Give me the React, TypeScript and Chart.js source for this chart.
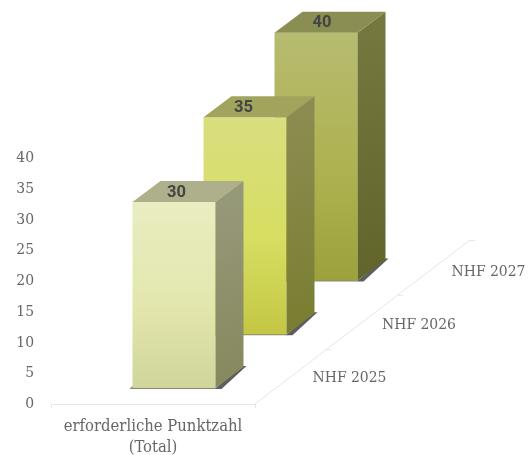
import React, { useEffect, useRef } from "react";
import { Chart, registerables } from "chart.js";

Chart.register(...registerables);

const categories = [["erforderliche Punktzahl", "(Total)"]];
const seriesNames = ["NHF 2025", "NHF 2026", "NHF 2027"];
const values2025 = [30];
const values2026 = [35];
const values2027 = [40];
const yTicks = [0, 5, 10, 15, 20, 25, 30, 35, 40];

const FONT = '"DejaVu Serif Condensed", "DejaVu Serif", serif';
const GRID = "#e6e6e6";

// projection of a chart-plane point into the receding depth axis
const DEPTH_X = 71;
const DEPTH_Y = -53.7;
const START_X = 21;
const START_Y = -16;
const SIDE_X = 28;
const SIDE_Y = -21;
const STRETCH = 1.008;

const faces = [
  { front: ["#e9edc1", "#e3e7ae", "#d0d59b"], top: "#aeaf8b", side: ["#96987a", "#86885c"] },
  { front: ["#d9de7f", "#d7de62", "#c3c743"], top: "#a0a45c", side: ["#8b8d50", "#797d30"] },
  { front: ["#b7bb70", "#aeb250", "#9da13c"], top: "#8a8e52", side: ["#74783f", "#61652a"] },
];
const labelShift = [[2.5, -9], [-1.5, -9.5], [6, -10]];

const poly = (ctx: CanvasRenderingContext2D, pts: number[][], fill: any) => {
  ctx.beginPath();
  pts.forEach((p, i) => (i ? ctx.lineTo(p[0], p[1]) : ctx.moveTo(p[0], p[1])));
  ctx.closePath();
  ctx.fillStyle = fill;
  ctx.fill();
};

const bars3d = {
  id: "bars3d",
  afterDatasetsDraw(chart: any) {
    const ctx: CanvasRenderingContext2D = chart.ctx;
    const area = chart.chartArea;
    ctx.save();

    // depth axis
    const ex = area.right + 215;
    const ey = area.bottom - 164;
    ctx.strokeStyle = GRID;
    ctx.lineWidth = 1;
    ctx.beginPath();
    ctx.moveTo(area.right, area.bottom);
    ctx.lineTo(ex, ey);
    for (let i = 1; i <= 3; i++) {
      const tx = area.right + ((ex - area.right) * i) / 3;
      const ty = area.bottom + ((ey - area.bottom) * i) / 3;
      ctx.moveTo(tx - 1, ty + 0.5);
      ctx.lineTo(tx + 5, ty + 0.5);
    }
    ctx.stroke();

    // depth labels
    ctx.font = `15.5px ${FONT}`;
    ctx.fillStyle = "#666666";
    ctx.textBaseline = "middle";
    ctx.textAlign = "center";
    seriesNames.forEach((name, i) => {
      ctx.fillText(name, area.right + 94.5 + i * 69.5, area.bottom - 26 - i * 53);
    });

    // columns, back to front
    for (let i = chart.data.datasets.length - 1; i >= 0; i--) {
      const el = chart.getDatasetMeta(i).data[0];
      const f = faces[i];
      const dx = START_X + DEPTH_X * i;
      const dy = START_Y + DEPTH_Y * i;
      const l = el.x - el.width / 2 + dx;
      const r = el.x + el.width / 2 + dx;
      const b = el.base + dy;
      const t = b - (el.base - el.y) * STRETCH;

      // shadow at the foot
      poly(ctx, [[r - 1, b + 1], [r + 6, b + 1], [r + SIDE_X + 3, b + SIDE_Y - 1], [r + SIDE_X - 1, b + SIDE_Y - 1]], "#5e5e5e");
      poly(ctx, [[l - 3, b + 1], [r, b + 1], [r, b - 1], [l, b - 2]], "#8a8a72");

      const fg = ctx.createLinearGradient(0, t, 0, b);
      fg.addColorStop(0, f.front[0]);
      fg.addColorStop(0.55, f.front[1]);
      fg.addColorStop(1, f.front[2]);
      poly(ctx, [[l, t], [r, t], [r, b], [l, b]], fg);

      const sg = ctx.createLinearGradient(r, t, r + SIDE_X, b);
      sg.addColorStop(0, f.side[0]);
      sg.addColorStop(1, f.side[1]);
      poly(ctx, [[r, t], [r + SIDE_X, t + SIDE_Y], [r + SIDE_X, b + SIDE_Y], [r, b]], sg);

      poly(ctx, [[l, t], [l + SIDE_X, t + SIDE_Y], [r + SIDE_X, t + SIDE_Y], [r, t]], f.top);

      const [lx, ly] = labelShift[i];
      ctx.font = "bold 16.5px Roboto, sans-serif";
      ctx.fillStyle = "#444444";
      ctx.textAlign = "center";
      ctx.textBaseline = "middle";
      ctx.fillText(String(chart.data.datasets[i].data[0]), el.x + dx + lx, t + ly);
    }
    ctx.restore();
  },
};

export default function App() {
  const ref = useRef<HTMLCanvasElement>(null);
  useEffect(() => {
    const mk = (label: string, data: number[]) => ({
      label,
      data,
      backgroundColor: "rgba(0,0,0,0)",
      grouped: false,
      barThickness: 83,
    });
    const chart = new Chart(ref.current!, {
      type: "bar",
      data: {
        labels: categories as any,
        datasets: [mk(seriesNames[0], values2025), mk(seriesNames[1], values2026), mk(seriesNames[2], values2027)],
      },
      plugins: [bars3d],
      options: {
        responsive: false,
        animation: false,
        layout: { padding: { top: 158, right: 273, bottom: 0, left: 0 } },
        plugins: { legend: { display: false }, tooltip: { enabled: false }, title: { display: false } },
        scales: {
          x: {
            grid: { drawOnChartArea: false, drawTicks: true, tickLength: 4, color: GRID },
            border: { color: GRID },
            ticks: { color: "#666666", font: { family: FONT, size: 16.5, lineHeight: 1.3 }, maxRotation: 0, autoSkip: false, padding: 8 },
            afterFit: (s: any) => { s.height = 51; },
          },
          y: {
            min: 0,
            max: 40,
            afterBuildTicks: (s: any) => { s.ticks = yTicks.map((value) => ({ value })); },
            grid: { display: false, drawTicks: false },
            border: { display: false },
            ticks: { color: "#666666", font: { family: FONT, size: 15.5 }, padding: 17 },
            afterFit: (s: any) => { s.width = 51; },
          },
        },
      },
    } as any);
    return () => chart.destroy();
  }, []);
  return (
    <div style={{ position: "fixed", left: 0, top: 0, width: 528, height: 455, background: "#fff" }}>
      <canvas ref={ref} width={528} height={455} style={{ display: "block" }} />
    </div>
  );
}
